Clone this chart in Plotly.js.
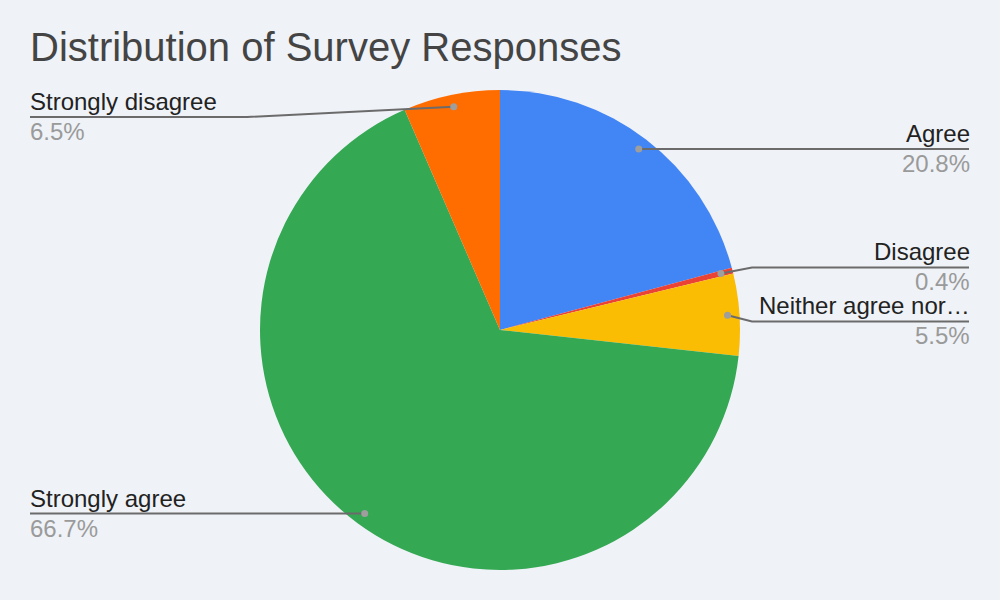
<!DOCTYPE html>
<html>
<head>
<meta charset="utf-8">
<script src="https://cdn.plot.ly/plotly-3.0.1.min.js"></script>
<style>html,body{margin:0;padding:0;background:#eff2f7;}#chart{width:1000px;height:600px;}</style>
</head>
<body>
<div id="chart"></div>
<script>
// ---- data ----
const categories = ['Agree', 'Disagree', 'Neither agree nor disagree', 'Strongly agree', 'Strongly disagree'];
const shares = [20.8, 0.4, 5.5, 66.7, 6.5];
const sliceColors = ['#4285f4', '#ea4335', '#fbbc04', '#34a853', '#ff6d01'];

// ---- layout constants ----
const W = 1000, H = 600;
const domX = [0.26, 0.74], domY = [0.05, 0.85];
const cx = (domX[0] + domX[1]) / 2 * W;
const cy = (1 - (domY[0] + domY[1]) / 2) * H;
const R = Math.min((domX[1] - domX[0]) * W, (domY[1] - domY[0]) * H) / 2;
const FONT = 'Arial, "Liberation Sans", sans-serif';
const LINE_COLOR = '#6b6b6b';
const MIN_GAP = 54, MIN_Y = 117;
const RIGHT_END = 969, LEFT_END = 30;

function px(x) { return x / W; }
function py(y) { return 1 - y / H; }
function shortLabel(s) { return s.length > 17 ? s.slice(0, 17) + '\u2026' : s; }

const total = shares.reduce((a, b) => a + b, 0);
let cum = 0;
const items = shares.map((v, i) => {
  const mid = (cum + v / 2) / total * 2 * Math.PI;
  cum += v;
  const dx = cx + 0.95 * R * Math.sin(mid);
  const dy = cy - 0.95 * R * Math.cos(mid);
  return { i, dx, dy, side: Math.sin(mid) >= 0 ? 'right' : 'left', ly: dy };
});

['right', 'left'].forEach(side => {
  const grp = items.filter(o => o.side === side).sort((a, b) => a.dy - b.dy);
  for (let it = 0; it < 50; it++) {
    for (let k = 1; k < grp.length; k++) {
      const gap = grp[k].ly - grp[k - 1].ly;
      if (gap < MIN_GAP) {
        const d = (MIN_GAP - gap) / 2;
        grp[k - 1].ly -= d; grp[k].ly += d;
      }
    }
    if (grp.length && grp[0].ly < MIN_Y) grp[0].ly = MIN_Y;
    for (let k = 1; k < grp.length; k++) {
      if (grp[k].ly - grp[k - 1].ly < MIN_GAP) grp[k].ly = grp[k - 1].ly + MIN_GAP;
    }
  }
});

const shapes = [], annotations = [];
items.forEach(o => {
  const right = o.side === 'right';
  const ex = right ? cx + R + 12 : cx - R - 13;
  const endX = right ? RIGHT_END : LEFT_END;
  const textX = right ? endX + 2 : endX - 1;
  shapes.push({
    type: 'path', xref: 'paper', yref: 'paper',
    path: `M ${px(o.dx)} ${py(o.dy)} L ${px(ex)} ${py(o.ly)} L ${px(endX)} ${py(o.ly)}`,
    line: { color: LINE_COLOR, width: 2 }
  });
  const r = 3.5;
  shapes.push({
    type: 'circle', xref: 'paper', yref: 'paper',
    x0: px(o.dx - r), x1: px(o.dx + r), y0: py(o.dy + r), y1: py(o.dy - r),
    fillcolor: '#9e9e9e', line: { width: 0 }
  });
  annotations.push({
    xref: 'paper', yref: 'paper', x: px(textX), y: py(o.ly - 1),
    xanchor: right ? 'right' : 'left', yanchor: 'bottom', showarrow: false, borderpad: 0,
    text: shortLabel(categories[o.i]), font: { family: FONT, size: 24, color: '#222222' }
  });
  annotations.push({
    xref: 'paper', yref: 'paper', x: px(textX), y: py(o.ly),
    xanchor: right ? 'right' : 'left', yanchor: 'top', showarrow: false, borderpad: 0,
    text: shares[o.i].toFixed(1) + '%', font: { family: FONT, size: 24, color: '#9a9a9a' }
  });
});

const trace = {
  type: 'pie', labels: categories, values: shares,
  marker: { colors: sliceColors, line: { width: 0 } },
  sort: false, direction: 'clockwise', rotation: 0,
  textinfo: 'none', hoverinfo: 'none',
  domain: { x: domX, y: domY }
};

const layout = {
  width: W, height: H,
  paper_bgcolor: '#eff2f7', plot_bgcolor: '#eff2f7',
  margin: { l: 0, r: 0, t: 0, b: 0 },
  showlegend: false,
  title: {
    text: 'Distribution of Survey Responses',
    x: 0.03, xanchor: 'left', xref: 'paper',
    y: 1 - 47 / H, yanchor: 'middle', yref: 'paper',
    font: { family: FONT, size: 40, color: '#444444' }
  },
  shapes, annotations
};

Plotly.newPlot('chart', [trace], layout, { staticPlot: true });
</script>
</body>
</html>
